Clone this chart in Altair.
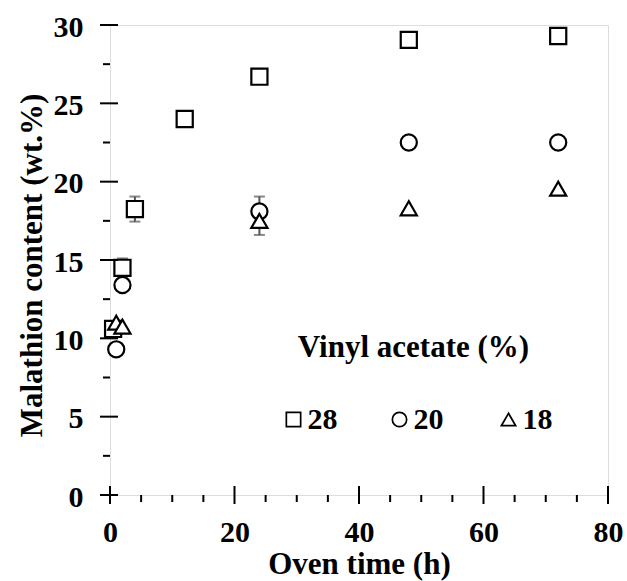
import altair as alt
import pandas as pd

# ---- data ----
series_labels = ["28", "20", "18"]
series_shapes = ["square", "circle", "triangle-up"]
legend_title = "Vinyl acetate (%)"

hours_28 = [0.5, 2, 4, 12, 24, 48, 72]
malathion_28 = [10.6, 14.5, 18.25, 24.0, 26.7, 29.05, 29.3]
hours_20 = [1, 2, 24, 48, 72]
malathion_20 = [9.3, 13.4, 18.1, 22.5, 22.5]
hours_18 = [1, 2, 24, 48, 72]
malathion_18 = [11.0, 10.75, 17.5, 18.3, 19.55]

err_series = ["28", "28", "20", "18"]
err_hours = [2, 4, 24, 24]
err_mean = [14.5, 18.25, 18.1, 17.5]
err_sd = [0.6, 0.8, 0.95, 0.9]

x_major = [0, 20, 40, 60, 80]
x_minor = [5, 10, 15, 25, 30, 35, 45, 50, 55, 65, 70, 75]
y_major = [0, 5, 10, 15, 20, 25, 30]
y_minor = [2.5, 7.5, 12.5, 17.5, 22.5, 27.5]

# ---- tables ----
rows = []
for lab, hs, vs in zip(series_labels, [hours_28, hours_20, hours_18],
                       [malathion_28, malathion_20, malathion_18]):
    for h, v in zip(hs, vs):
        rows.append({"hours": h, "malathion": v, "va": lab})
points_df = pd.DataFrame(rows)

err_df = pd.DataFrame({
    "va": err_series, "hours": err_hours,
    "lo": [m - s for m, s in zip(err_mean, err_sd)],
    "hi": [m + s for m, s in zip(err_mean, err_sd)],
})
legend_df = pd.DataFrame({"va": series_labels, "shape": series_shapes})

FONT = "Liberation Serif"
W, H = 498, 470

xs = alt.Scale(domain=[0, 80], nice=False, zero=False)
ys = alt.Scale(domain=[0, 30], nice=False, zero=False)
shape_scale = alt.Scale(domain=series_labels, range=series_shapes)

x_axis = alt.Axis(values=x_major, title="Oven time (h)", ticks=False, domain=False,
                  grid=False, labelFont=FONT, labelFontSize=30, labelFontWeight="bold",
                  labelColor="black", labelPadding=22, labelFlush=False, format="d",
                  titleFont=FONT, titleFontSize=31, titleFontWeight="bold",
                  titleColor="black", titleY=78, titleBaseline="alphabetic")
y_axis = alt.Axis(values=y_major, title="Malathion content (wt.%)", ticks=False,
                  domain=False, grid=False, labelFont=FONT, labelFontSize=30,
                  labelFontWeight="bold", labelColor="black", labelPadding=27,
                  labelOffset=2, labelFlush=False, format="d",
                  titleFont=FONT, titleFontSize=31, titleFontWeight="bold",
                  titleColor="black", titleX=-69, titleY=240, titleAngle=270,
                  titleAlign="center", titleBaseline="alphabetic")

errbars = alt.Chart(err_df).mark_errorbar(
    ticks=True, size=11, thickness=2, color="#555555"
).encode(
    x=alt.X("hours:Q", scale=xs, axis=x_axis),
    y=alt.Y("lo:Q", scale=ys, axis=y_axis),
    y2="hi:Q",
)

points = alt.Chart(points_df).mark_point(
    filled=False, color="black", fill="white", stroke="black", strokeWidth=2.2,
    opacity=1, fillOpacity=1, size=260
).encode(
    x=alt.X("hours:Q", scale=xs, axis=x_axis),
    y=alt.Y("malathion:Q", scale=ys, axis=y_axis),
    shape=alt.Shape("va:N", scale=shape_scale, legend=None),
)

tick_style = dict(color="black", strokeWidth=2)
xmaj = alt.Chart(pd.DataFrame({"v": x_major})).mark_rule(**tick_style).encode(
    x=alt.X("v:Q", scale=xs, axis=x_axis), y=alt.value(H - 9), y2=alt.value(H + 9))
xmin = alt.Chart(pd.DataFrame({"v": x_minor})).mark_rule(**tick_style).encode(
    x=alt.X("v:Q", scale=xs, axis=x_axis), y=alt.value(H), y2=alt.value(H + 7))
ymaj = alt.Chart(pd.DataFrame({"v": y_major})).mark_rule(**tick_style).encode(
    y=alt.Y("v:Q", scale=ys, axis=y_axis), x=alt.value(-10), x2=alt.value(8))
ymin = alt.Chart(pd.DataFrame({"v": y_minor})).mark_rule(**tick_style).encode(
    y=alt.Y("v:Q", scale=ys, axis=y_axis), x=alt.value(-7), x2=alt.value(0))

# ---- in-plot legend (pixel layout inside the plot area) ----
LEG_SYM_X = [183.5, 289.5, 398.5]
LEG_ROW_Y = 394.5
LEG_LABEL_DX = 14
legend_layers = []
for lab, sx in zip(series_labels, LEG_SYM_X):
    base = alt.Chart(legend_df).transform_filter(alt.datum.va == lab)
    legend_layers.append(
        base.mark_point(filled=False, fill="white", stroke="black", strokeWidth=1.7,
                        opacity=1, fillOpacity=1, size=205).encode(
            x=alt.value(sx), y=alt.value(LEG_ROW_Y),
            shape=alt.Shape("va:N", scale=shape_scale, legend=None))
    )
    legend_layers.append(
        base.mark_text(font=FONT, fontSize=30, fontWeight="bold", color="black",
                       align="left", baseline="alphabetic").encode(
            x=alt.value(sx + LEG_LABEL_DX), y=alt.value(LEG_ROW_Y + 9), text="va:N")
    )
legend_title_layer = alt.Chart(pd.DataFrame({"t": [legend_title]})).mark_text(
    font=FONT, fontSize=31, fontWeight="bold", color="black", align="center",
    baseline="alphabetic").encode(x=alt.value(303.5), y=alt.value(332), text="t:N")

chart = alt.layer(errbars, points, xmaj, xmin, ymaj, ymin, legend_title_layer,
                  *legend_layers).properties(
    width=W, height=H,
    padding={"left": 110, "top": 25, "right": 19, "bottom": 86},
    autosize=alt.AutoSizeParams(type="none"),
).configure_view(stroke="black", strokeWidth=2).configure(background="white")

chart.save("out.html", embed_options={"renderer": "svg", "actions": False})
